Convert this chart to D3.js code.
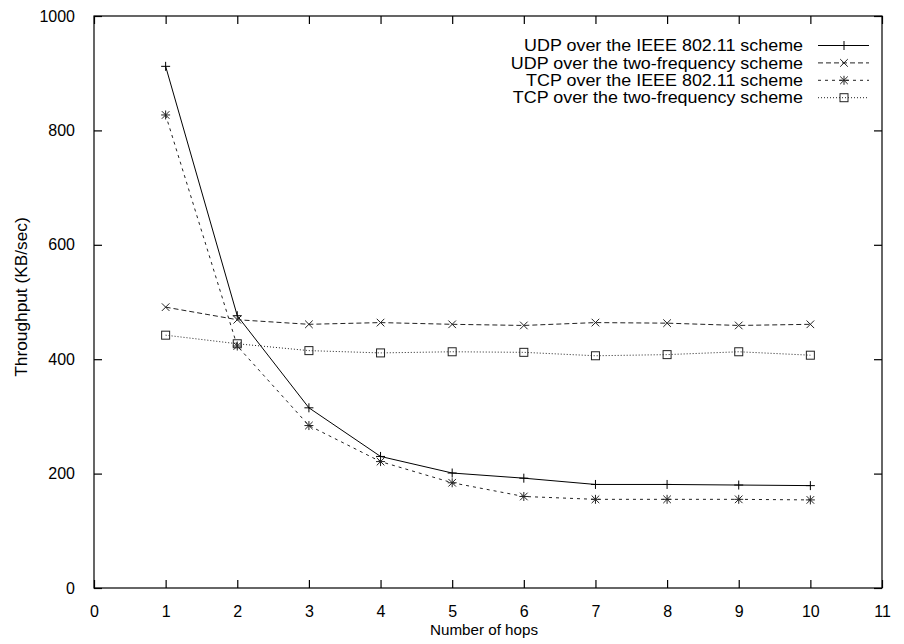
<!DOCTYPE html>
<html><head><meta charset="utf-8">
<script src="https://cdn.jsdelivr.net/npm/d3@7"></script>
<style>
body{margin:0;background:#fff;}
text{font-family:"Liberation Sans",Arial,Helvetica,sans-serif;fill:#000;}
</style></head>
<body><svg id="c" width="904" height="644"></svg>
<script>
const hops = [1,2,3,4,5,6,7,8,9,10];
const udpIEEE = [912, 476, 315, 230, 201, 192, 181, 181, 180, 179];
const udpTwoFreq = [491, 469, 461, 464, 461, 459, 464, 463, 459, 461];
const tcpIEEE = [827, 423, 284, 221, 184, 160, 155, 155, 155, 154];
const tcpTwoFreq = [442, 427, 415, 411, 413, 412, 406, 408, 413, 407];
const xTicks = [0,1,2,3,4,5,6,7,8,9,10,11];
const yTicks = [0,200,400,600,800,1000];
const seriesNames = ["UDP over the IEEE 802.11 scheme","UDP over the two-frequency scheme","TCP over the IEEE 802.11 scheme","TCP over the two-frequency scheme"];

const series = [
  {name:seriesNames[0], values:udpIEEE, dash:null, marker:"plus", color:"#000"},
  {name:seriesNames[1], values:udpTwoFreq, dash:"5,3", marker:"cross", color:"#222"},
  {name:seriesNames[2], values:tcpIEEE, dash:"3,4", marker:"star", color:"#222"},
  {name:seriesNames[3], values:tcpTwoFreq, dash:"1,2", marker:"square", color:"#222"}
];

const L=94, R=882, T=16, B=588;
const svg = d3.select("#c");
const x = d3.scaleLinear().domain([0,11]).range([L,R]);
const y = d3.scaleLinear().domain([0,1000]).range([B,T]);

svg.append("rect").attr("x",L).attr("y",T).attr("width",R-L).attr("height",B-T)
  .attr("fill","none").attr("stroke","#000").attr("stroke-width",1.2);

const tl = 8;
svg.append("g").attr("transform",`translate(0,${B})`)
  .call(d3.axisBottom(x).tickValues(xTicks).tickSize(-tl).tickPadding(tl+10).tickFormat(d3.format("d")));
svg.append("g").attr("transform",`translate(0,${T})`)
  .call(d3.axisTop(x).tickValues(xTicks).tickSize(-tl).tickFormat(""));
svg.append("g").attr("transform",`translate(${L},0)`)
  .call(d3.axisLeft(y).tickValues(yTicks).tickSize(-tl).tickPadding(tl+11).tickFormat(d3.format("d")));
svg.append("g").attr("transform",`translate(${R},0)`)
  .call(d3.axisRight(y).tickValues(yTicks).tickSize(-tl).tickFormat(""));

svg.selectAll(".domain").remove();
svg.selectAll(".tick line").attr("stroke","#000").attr("stroke-width",1.2);
svg.selectAll(".tick text").attr("font-size",16).attr("fill","#000")
  .style("font-family",'"Liberation Sans",Arial,sans-serif');

svg.append("text").attr("x",(L+R)/2 - 4).attr("y",635).attr("text-anchor","middle")
  .attr("font-size",15.2).text("Number of hops");
svg.append("text").attr("transform",`translate(27,${(T+B)/2 - 5}) rotate(-90)`)
  .attr("text-anchor","middle").attr("font-size",17.3).text("Throughput (KB/sec)");

function drawMarker(g, type, cx, cy, color){
  const s=4.5;
  if(type==="plus"||type==="star"){
    g.append("line").attr("x1",cx-s).attr("x2",cx+s).attr("y1",cy).attr("y2",cy).attr("stroke",color);
    g.append("line").attr("x1",cx).attr("x2",cx).attr("y1",cy-s).attr("y2",cy+s).attr("stroke",color);
  }
  if(type==="cross"||type==="star"){
    const c=3.8;
    g.append("line").attr("x1",cx-c).attr("x2",cx+c).attr("y1",cy-c).attr("y2",cy+c).attr("stroke",color);
    g.append("line").attr("x1",cx-c).attr("x2",cx+c).attr("y1",cy+c).attr("y2",cy-c).attr("stroke",color);
  }
  if(type==="square"){
    g.append("rect").attr("x",cx-4).attr("y",cy-4).attr("width",8).attr("height",8)
      .attr("fill","none").attr("stroke",color);
  }
}

const line = d3.line().x((d,i)=>x(hops[i])).y(d=>y(d));
series.forEach(s=>{
  const g = svg.append("g");
  g.append("path").datum(s.values).attr("d",line).attr("fill","none")
    .attr("stroke",s.color).attr("stroke-width",1)
    .attr("stroke-dasharray",s.dash);
  s.values.forEach((v,i)=>drawMarker(g,s.marker,x(hops[i]),y(v),s.color));
});

const lg = svg.append("g");
series.forEach((s,i)=>{
  const yy = 45.5 + i*17.4;
  lg.append("text").attr("transform",`translate(803,${yy}) scale(1.12,1)`).attr("dy","0.35em")
    .attr("text-anchor","end").attr("font-size",16).text(s.name);
  lg.append("line").attr("x1",818).attr("x2",869).attr("y1",yy).attr("y2",yy)
    .attr("stroke",s.color).attr("stroke-width",1).attr("stroke-dasharray",s.dash);
  drawMarker(lg,s.marker,844,yy,s.color);
});
</script></body></html>
